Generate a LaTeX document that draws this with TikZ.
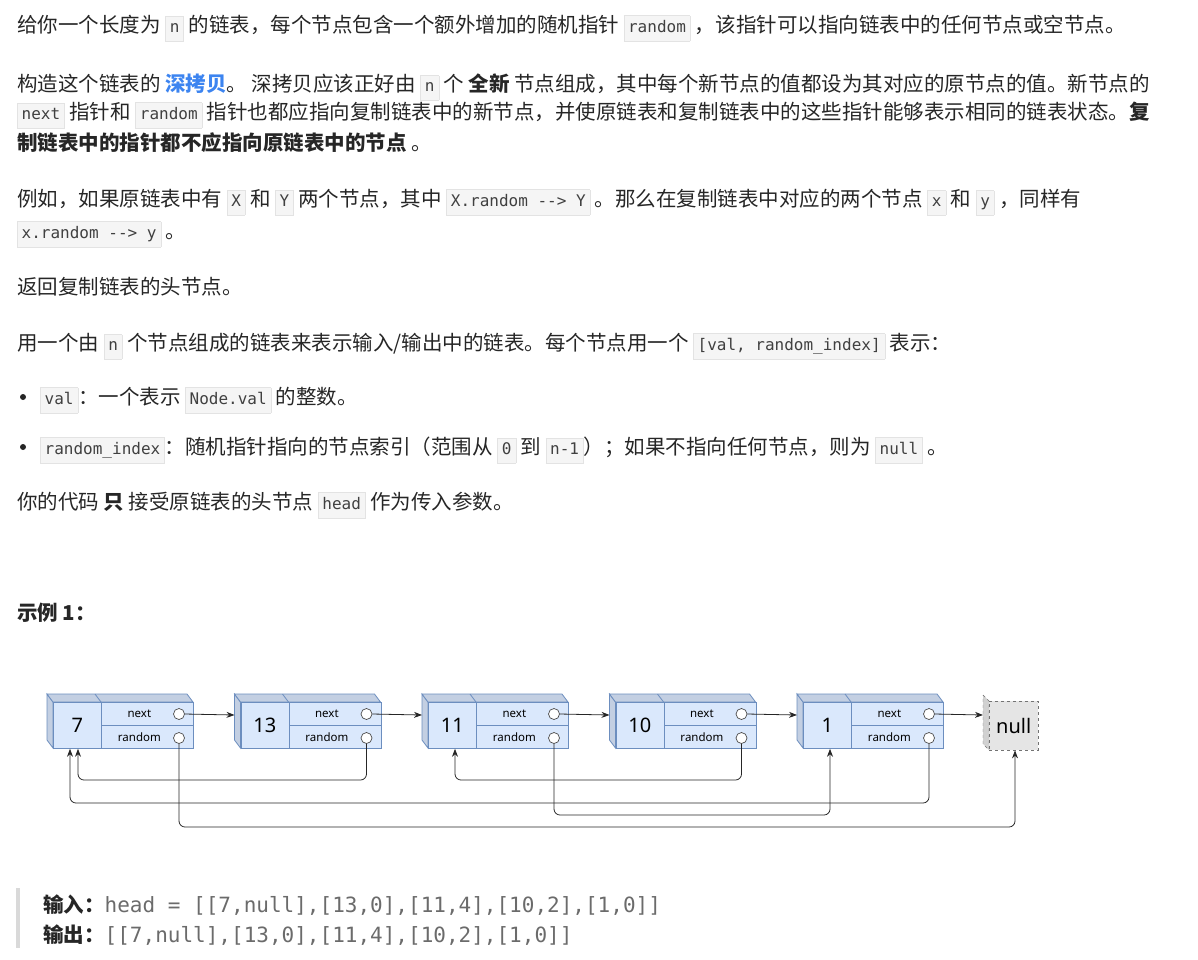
\documentclass[tikz,border=0pt]{standalone}
\usepackage{fontspec}
\setmainfont{Noto Sans CJK SC}
\setmonofont{DejaVu Sans Mono}
\newfontfamily\diafont{Noto Sans}
\usetikzlibrary{arrows.meta,calc}
\definecolor{txt}{HTML}{262626}
\definecolor{chipbg}{HTML}{F5F5F5}
\definecolor{chipbd}{HTML}{E3E3E3}
\definecolor{codec}{HTML}{404040}
\definecolor{linkb}{HTML}{3C84F0}
\definecolor{nfill}{HTML}{DAE8FC}
\definecolor{nside}{HTML}{C3CFE2}
\definecolor{nstroke}{HTML}{6C8EBF}
\definecolor{outc}{HTML}{6B6B6B}
\newcommand\cc[1]{{\setlength\fboxsep{4pt}\setlength\fboxrule{0.5pt}\fcolorbox{chipbd}{chipbg}{\ttfamily\fontsize{16}{16}\selectfont\color{codec}\strut#1}}}
\begin{document}
\begin{tikzpicture}[x=1pt,y=-1pt,
  para/.style={anchor=base west,inner sep=0,font=\fontsize{20.5}{22}\selectfont,text=txt},
  cell/.style={draw=nstroke,fill=nfill,line width=0.8pt,anchor=north west,inner sep=0,font=\diafont\fontsize{11.5}{12}\selectfont},
  ptr/.style={circle,draw=black!70,fill=white,line width=0.7pt,minimum size=11pt,inner sep=0},
  wire/.style={draw=black!85,line width=0.8pt,rounded corners=6,-{Stealth[length=8pt,width=6pt]}}]
\useasboundingbox (0,0) rectangle (1198,959);
% text
\node[para] (l1) at (17,32) {给你一个长度为 \cc{n} 的链表，每个节点包含一个额外增加的随机指针 \cc{random} ，该指针可以指向链表中的任何节点或空节点。};
\node[para] (l2) at (17,91) {构造这个链表的 \textbf{\color{linkb}深拷贝}。 深拷贝应该正好由 \cc{n} 个 \textbf{全新} 节点组成，其中每个新节点的值都设为其对应的原节点的值。新节点的};
\node[para] (l3) at (17,119) {\cc{next} 指针和 \cc{random} 指针也都应指向复制链表中的新节点，并使原链表和复制链表中的这些指针能够表示相同的链表状态。\textbf{复}};
\node[para] (l4) at (17,150) {\textbf{制链表中的指针都不应指向原链表中的节点} 。};
\node[para] (l5) at (17,206) {例如，如果原链表中有 \cc{X} 和 \cc{Y} 两个节点，其中 \cc{X.random --> Y} 。那么在复制链表中对应的两个节点 \cc{x} 和 \cc{y} ，同样有};
\node[para] (l6) at (17,238) {\cc{x.random --> y} 。};
\node[para] (l7) at (17,294) {返回复制链表的头节点。};
\node[para] (l8) at (17,350) {用一个由 \cc{n} 个节点组成的链表来表示输入/输出中的链表。每个节点用一个 \cc{[val, random\_index]} 表示：};
\fill[txt] (23,397) circle (3);
\node[para] (b1) at (40,404) {\cc{val}：一个表示 \cc{Node.val} 的整数。};
\fill[txt] (23,447) circle (3);
\node[para] (b2) at (40,454) {\cc{random\_index}：随机指针指向的节点索引（范围从 \cc{0} 到 \cc{n-1}）；如果不指向任何节点，则为 \cc{null} 。};
\node[para] (l9) at (17,509) {你的代码 \textbf{只} 接受原链表的头节点 \cc{head} 作为传入参数。};
\node[para] (ex) at (17,620) {\textbf{示例 1：}};
% diagram
\foreach \i/\x/\v in {0/53/7,1/240.5/13,2/428/11,3/615.5/10,4/803/1}{
  \fill[nside,draw=nstroke,line width=0.8pt] (\x-6,694) -- (\x,702) -- (\x,748) -- (\x-6,740) -- cycle;
  \fill[nside,draw=nstroke,line width=0.8pt] (\x-6,694) -- (\x+134,694) -- (\x+140,702) -- (\x,702) -- cycle;
  \draw[nstroke,line width=0.8pt] (\x+42,694) -- (\x+48,702);
  \node[cell,minimum width=48pt,minimum height=46pt,font=\diafont\fontsize{20}{20}\selectfont] (v\i) at (\x,702) {\v};
  \node[cell,minimum width=92pt,minimum height=23pt] (n\i) at (\x+48,702) {\hspace*{-16pt}next};
  \node[cell,minimum width=92pt,minimum height=23pt] (r\i) at (\x+48,725) {\hspace*{-16pt}random};
  \node[ptr] (cn\i) at (\x+126,714) {};
  \node[ptr] (cr\i) at (\x+126,738) {};
  \coordinate (in\i) at (\x-6,715);
}
\fill[black!18,draw=black!55,dashed] (983,695) -- (989,701) -- (989,750) -- (983,744) -- cycle;
\node[draw=black!55,dashed,fill=black!10,minimum width=49pt,minimum height=49pt,inner sep=0,anchor=north west,font=\diafont\fontsize{20}{20}\selectfont] (null) at (989,701) {null};
\coordinate (in5) at (983,715);
\foreach \i/\j in {0/1,1/2,2/3,3/4,4/5}
  \draw[wire] (cn\i.east) -- (in\j);
\draw[wire] (cr1.south) |- ([xshift=25pt]v0.south west |- 0,780) -- ([xshift=25pt]v0.south west);
\draw[wire] (cr3.south) |- ([xshift=27pt]v2.south west |- 0,780) -- ([xshift=27pt]v2.south west);
\draw[wire] (cr4.south) |- ([xshift=17pt]v0.south west |- 0,803) -- ([xshift=17pt]v0.south west);
\draw[wire] (cr2.south) |- ([xshift=27pt]v4.south west |- 0,815) -- ([xshift=27pt]v4.south west);
\draw[wire] (cr0.south) |- ([xshift=26pt]null.south west |- 0,827) -- ([xshift=26pt]null.south west);
% output
\fill[black!15] (16,888) rectangle (20,948);
\node[para] (inp) at (43,912) {\textbf{输入：}{\ttfamily\fontsize{21}{22}\selectfont\color{outc}head = [[7,null],[13,0],[11,4],[10,2],[1,0]]}};
\node[para] (outp) at (43,942) {\textbf{输出：}{\ttfamily\fontsize{21}{22}\selectfont\color{outc}[[7,null],[13,0],[11,4],[10,2],[1,0]]}};
\end{tikzpicture}
\end{document}
